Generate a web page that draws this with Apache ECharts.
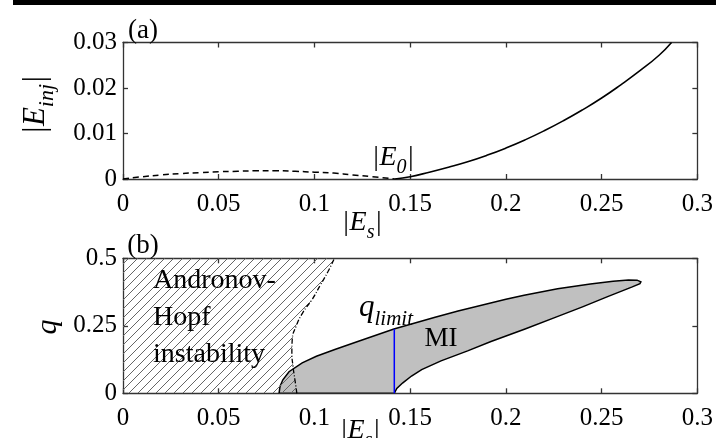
<!DOCTYPE html>
<html>
<head>
<meta charset="utf-8">
<script src="https://cdn.jsdelivr.net/npm/echarts@6/dist/echarts.min.js"></script>
<style>
html, body { margin: 0; padding: 0; background: #fff; }
#main { width: 716px; height: 438px; }
</style>
</head>
<body>
<div id="main"></div>
<script>
// (a) |E_inj| vs |E_s| : unstable (dashed) and stable (solid) branches
var unstableEs   = [0, 0.01, 0.02, 0.03, 0.04, 0.05, 0.06, 0.07, 0.08, 0.09, 0.10, 0.11, 0.12, 0.13, 0.142];
var unstableEinj = [0, 0.0005, 0.0009, 0.0012, 0.0014, 0.0016, 0.0017, 0.0018, 0.0018, 0.0017, 0.0015, 0.0013, 0.0009, 0.0005, 0];
var stableEs     = [0.142, 0.15, 0.16, 0.17, 0.18, 0.19, 0.20, 0.21, 0.22, 0.23, 0.24, 0.25, 0.26, 0.27, 0.28, 0.2865];
var stableEinj   = [0, 0.0005, 0.0015, 0.0026, 0.0038, 0.0052, 0.0068, 0.0086, 0.0106, 0.0128, 0.0152, 0.0178, 0.0207, 0.0238, 0.0272, 0.030];

// (b) Andronov-Hopf boundary (|E_s| as a function of q)
var hopfQ  = [0, 0.05, 0.1, 0.15, 0.2, 0.25, 0.3, 0.35, 0.4, 0.45, 0.5];
var hopfEs = [0.0908, 0.0898, 0.0888, 0.0882, 0.0884, 0.0905, 0.0940, 0.0990, 0.1030, 0.1070, 0.1104];

// (b) MI region outline, upper branch then lower branch
var miEs = [0.0815, 0.0820, 0.0835, 0.0867, 0.0936, 0.1010, 0.1110, 0.1230, 0.1415, 0.1630, 0.1750, 0.2000, 0.2095,
            0.2270, 0.2441, 0.2560, 0.2640, 0.2685, 0.2705, 0.2700, 0.2660, 0.2528, 0.2400, 0.2268, 0.2100, 0.1922,
            0.1800, 0.1661, 0.1560, 0.1507, 0.1460, 0.1430, 0.1417];
var miQ  = [0, 0.025, 0.050, 0.080, 0.113, 0.137, 0.163, 0.193, 0.238, 0.282, 0.305, 0.348, 0.363,
            0.387, 0.405, 0.415, 0.420, 0.419, 0.413, 0.406, 0.394, 0.357, 0.320, 0.284, 0.238, 0.192,
            0.157, 0.120, 0.088, 0.064, 0.038, 0.018, 0];

// q_limit marker
var qLimitEs = [0.1417, 0.1417];
var qLimitQ  = [0, 0.238];

var serif = '"Liberation Serif", "Times New Roman", serif';
var axisCol = '#333';

function zip(xs, ys) {
    return xs.map(function (x, i) { return [x, ys[i]]; });
}

// hatch pattern for the Andronov-Hopf area
var pat = document.createElement('canvas');
pat.width = 9; pat.height = 9;
var pc = pat.getContext('2d');
pc.strokeStyle = '#666';
pc.lineWidth = 1;
pc.beginPath();
pc.moveTo(-1, 10); pc.lineTo(10, -1);
pc.moveTo(-1, 1); pc.lineTo(1, -1);
pc.moveTo(8, 10); pc.lineTo(10, 8);
pc.stroke();

function xAxisOf(grid, pos, labels, max) {
    return {
        type: 'value', gridIndex: grid, position: pos,
        min: 0, max: max, interval: 0.05,
        axisLine: { show: true, onZero: false, lineStyle: { color: axisCol, width: 1.3 } },
        axisTick: { show: true, inside: true, length: 5, lineStyle: { color: axisCol, width: 1.3 } },
        axisLabel: { show: labels, margin: 13, color: '#000', fontFamily: serif, fontSize: 25 },
        splitLine: { show: false }
    };
}
function yAxisOf(grid, pos, labels, max, step) {
    return {
        type: 'value', gridIndex: grid, position: pos,
        min: 0, max: max, interval: step,
        axisLine: { show: true, onZero: false, lineStyle: { color: axisCol, width: 1.3 } },
        axisTick: { show: true, inside: true, length: 5, lineStyle: { color: axisCol, width: 1.3 } },
        axisLabel: { show: labels, margin: 6, color: '#000', fontFamily: serif, fontSize: 25 },
        splitLine: { show: false }
    };
}

// filled polygon drawn through the axis scales
function polygonSeries(xs, ys, style, z) {
    return {
        type: 'custom', xAxisIndex: 2, yAxisIndex: 2, z: z, clip: true, silent: true,
        data: [[xs[0], ys[0]]],
        renderItem: function (params, api) {
            var pts = xs.map(function (x, i) { return api.coord([x, ys[i]]); });
            return { type: 'polygon', shape: { points: pts }, style: style };
        }
    };
}

function subText(x, y, base, sub, bars, rot, size, subSize) {
    size = size || 28;
    subSize = subSize || 20;
    var txt = bars ? '{b||' + base + '}{s|' + sub + '}{b||}' : '{b|' + base + '}{s|' + sub + '}';
    return {
        type: 'text', x: x, y: y, rotation: rot || 0, z: 100,
        style: {
            text: txt, align: 'center', verticalAlign: 'middle',
            rich: {
                b: { fontFamily: serif, fontStyle: 'italic', fontSize: size, lineHeight: size, verticalAlign: 'top', fill: '#000' },
                s: { fontFamily: serif, fontStyle: 'italic', fontSize: subSize, lineHeight: subSize, verticalAlign: 'top', padding: [Math.round(size / 2), 0, 0, 0], fill: '#000' }
            }
        }
    };
}

var hatchPts = { xs: [0].concat(hopfEs, [0]), ys: [0].concat(hopfQ, [0.5]) };

var chart = echarts.init(document.getElementById('main'));
var option = {
    animation: false,
    backgroundColor: '#fff',
    grid: [
        { left: 123, top: 42.5, width: 578, height: 136.5 },
        { left: 123, top: 258.3, width: 578, height: 135 }
    ],
    xAxis: [
        xAxisOf(0, 'bottom', true, 0.3),
        xAxisOf(0, 'top', false, 0.3),
        xAxisOf(1, 'bottom', true, 0.3),
        xAxisOf(1, 'top', false, 0.3)
    ],
    yAxis: [
        yAxisOf(0, 'left', true, 0.03, 0.01),
        yAxisOf(0, 'right', false, 0.03, 0.01),
        yAxisOf(1, 'left', true, 0.5, 0.25),
        yAxisOf(1, 'right', false, 0.5, 0.25)
    ],
    series: [
        {
            type: 'line', xAxisIndex: 0, yAxisIndex: 0, symbol: 'none', smooth: true,
            lineStyle: { color: '#000', width: 1.5, type: [6, 4] },
            data: zip(unstableEs, unstableEinj)
        },
        {
            type: 'line', xAxisIndex: 0, yAxisIndex: 0, symbol: 'none', smooth: true,
            lineStyle: { color: '#000', width: 1.6 },
            data: zip(stableEs, stableEinj)
        },
        polygonSeries(miEs, miQ, { fill: '#c0c0c0', stroke: '#000', lineWidth: 1.5 }, 2),
        polygonSeries(hatchPts.xs, hatchPts.ys, { fill: { image: pat, repeat: 'repeat' } }, 3),
        {
            type: 'line', xAxisIndex: 2, yAxisIndex: 2, symbol: 'none', smooth: true, z: 4,
            lineStyle: { color: '#000', width: 1.3, type: [5, 2, 1, 2] },
            data: zip(hopfEs, hopfQ)
        },
        {
            type: 'line', xAxisIndex: 2, yAxisIndex: 2, symbol: 'none', z: 4,
            lineStyle: { color: '#0000ff', width: 1.5 },
            data: zip(qLimitEs, qLimitQ)
        }
    ],
    graphic: [
        { type: 'rect', shape: { x: 13, y: 0, width: 703, height: 5 }, style: { fill: '#000' } },
        { type: 'text', x: 143, y: 31, z: 100, style: { text: '(a)', align: 'center', verticalAlign: 'middle', fontFamily: serif, fontSize: 27, fill: '#000' } },
        { type: 'text', x: 143, y: 246, z: 100, style: { text: '(b)', align: 'center', verticalAlign: 'middle', fontFamily: serif, fontSize: 27, fill: '#000' } },
        subText(36, 105, 'E', 'inj', true, Math.PI / 2, 31, 22),
        subText(393, 158, 'E', '0', true),
        subText(362, 223, 'E', 's', true),
        subText(360, 431, 'E', 's', true),
        {
            type: 'text', x: 48, y: 327, rotation: Math.PI / 2, z: 100,
            style: { text: 'q', align: 'center', verticalAlign: 'middle', fontFamily: serif, fontStyle: 'italic', fontSize: 30, fill: '#000' }
        },
        subText(386, 308, 'q', 'limit', false, 0, 31, 21),
        {
            type: 'text', x: 441, y: 339, z: 100,
            style: { text: 'MI', align: 'center', verticalAlign: 'middle', fontFamily: serif, fontSize: 27, fill: '#000' }
        },
        {
            type: 'text', x: 153, y: 318, z: 100,
            style: { text: 'Andronov-\nHopf\ninstability', align: 'left', verticalAlign: 'middle', lineHeight: 37, fontFamily: serif, fontSize: 28, fill: '#000' }
        }
    ]
};
chart.setOption(option);
</script>
</body>
</html>
